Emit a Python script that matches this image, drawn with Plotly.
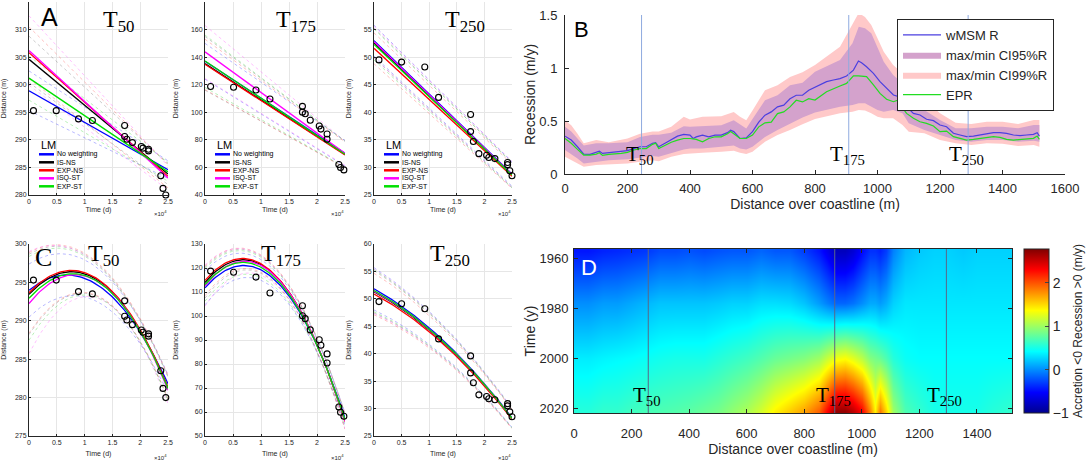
import numpy as np
import plotly.graph_objects as go

W, H = 1088, 462
SANS = "Liberation Sans, Arial, sans-serif"
SERIF = "Liberation Serif, Times New Roman, serif"

# ---------------- data: transect observations (time in 1e4 days) ----------------
t50 = [0.08, 0.49, 0.89, 1.14, 1.72, 1.72, 1.76, 1.86, 2.02, 2.05, 2.15, 2.15, 2.37, 2.41, 2.46]
d50 = [295.3, 295.3, 293.8, 293.5, 292.6, 290.6, 290.1, 289.5, 288.8, 288.5, 288.3, 288.0, 283.5, 281.2, 280.0]
t175 = [0.10, 0.51, 0.91, 1.16, 1.74, 1.74, 1.79, 1.88, 2.04, 2.07, 2.18, 2.18, 2.39, 2.42, 2.48]
d175 = [118.7, 118.2, 116.2, 109.6, 104.3, 100.1, 98.9, 94.2, 90.1, 87.8, 84.2, 80.4, 62.1, 59.9, 58.2]
t250 = [0.09, 0.50, 0.92, 1.17, 1.75, 1.75, 1.80, 1.90, 2.04, 2.08, 2.19, 2.42, 2.42, 2.46, 2.50]
d250 = [49.5, 49.1, 48.2, 42.7, 39.6, 36.5, 34.7, 32.5, 32.2, 31.8, 31.6, 30.9, 30.5, 29.4, 28.5]

methods = ["No weighting", "IS-NS", "EXP-NS", "ISQ-ST", "EXP-ST"]
method_colors = ["#0000ff", "#000000", "#ff0000", "#ff00ff", "#00e000"]
ci_colors = ["rgba(80,80,255,0.45)", "rgba(110,110,110,0.4)", "rgba(255,100,100,0.45)",
             "rgba(255,100,255,0.45)", "rgba(80,220,80,0.45)"]

# linear fits (panel A): values at t = 0 and t = 2.5
lin_t = [0.0, 2.5]
fitA50 = [[298.9, 284.6], [304.6, 283.8], [305.8, 283.4], [306.2, 283.1], [301.2, 284.2]]
ciA50_up = [[302.5, 286.2], [308.8, 285.7], [310.5, 285.5], [312.5, 285.3], [305.2, 285.9]]
ciA50_lo = [[295.3, 283.0], [300.4, 281.9], [301.1, 281.3], [299.9, 280.9], [297.2, 282.5]]
fitA175 = [[137.0, 70.3], [135.3, 69.5], [134.8, 69.0], [143.8, 70.2], [137.2, 69.6]]
ciA175_up = [[150.0, 79.5], [155.0, 79.0], [153.0, 78.5], [163.0, 79.0], [156.0, 79.0]]
ciA175_lo = [[124.0, 61.0], [116.0, 60.0], [116.5, 59.5], [124.5, 61.5], [118.0, 60.0]]
fitA250 = [[53.0, 28.8], [52.6, 28.6], [51.6, 28.4], [52.8, 28.7], [52.3, 28.6]]
ciA250_up = [[55.8, 31.0], [55.3, 30.8], [54.4, 30.6], [55.6, 31.1], [55.1, 30.9]]
ciA250_lo = [[50.2, 26.6], [49.9, 26.4], [48.8, 26.2], [49.9, 26.3], [49.5, 26.3]]

# quadratic fits (panel C): values read at these times
quad_t = [0.0, 0.75, 1.6, 2.5]
fitC50 = [[294.0, 295.9, 292.4, 281.8], [293.4, 296.5, 292.8, 281.3], [293.6, 296.7, 292.9, 281.4],
          [292.2, 296.1, 292.7, 281.0], [292.9, 296.2, 292.7, 281.2]]
ciC50_up = [[297.5, 298.3, 294.5, 282.9], [298.8, 299.1, 294.9, 282.7], [299.0, 299.3, 295.0, 282.8],
            [299.2, 299.0, 294.8, 282.6], [298.5, 298.9, 294.7, 282.6]]
ciC50_lo = [[290.4, 293.5, 290.3, 280.7], [288.0, 293.9, 290.7, 279.9], [288.2, 294.0, 290.8, 280.0],
            [285.5, 293.2, 290.6, 279.4], [287.3, 293.5, 290.7, 279.8]]
fitC175 = [[111.7, 121.1, 104.9, 57.5], [113.8, 123.8, 105.9, 56.4], [114.7, 124.2, 106.1, 56.1],
           [112.4, 123.3, 105.8, 56.4], [113.1, 122.3, 105.5, 56.8]]
ciC175_up = [[119.0, 125.5, 108.5, 59.5], [120.5, 127.0, 109.5, 59.0], [121.0, 127.5, 109.8, 58.8],
             [121.5, 127.2, 109.5, 59.0], [120.0, 126.5, 109.2, 59.2]]
ciC175_lo = [[104.5, 116.5, 101.3, 55.0], [107.0, 120.5, 102.3, 53.5], [108.0, 121.0, 102.5, 53.2],
             [103.5, 119.5, 102.0, 53.5], [106.0, 118.0, 101.8, 54.2]]
fitC250 = [[51.6, 47.4, 38.4, 28.5], [51.1, 46.9, 38.2, 28.3], [50.7, 46.5, 38.0, 28.2],
           [51.2, 47.0, 38.3, 28.4], [51.3, 47.1, 38.3, 28.4]]
ciC250_up = [[55.5, 50.5, 41.0, 30.2], [55.0, 50.0, 40.8, 30.0], [54.5, 49.6, 40.5, 29.9],
             [55.3, 50.3, 40.9, 30.1], [55.2, 50.2, 40.9, 30.1]]
ciC250_lo = [[47.7, 44.3, 35.8, 26.8], [47.2, 43.8, 35.6, 26.6], [46.9, 43.4, 35.5, 26.5],
             [47.1, 43.7, 35.7, 26.7], [47.4, 44.0, 35.7, 26.7]]

# ---------------- data: panel B (recession along coastline) ----------------
line_x = [0, 20, 40, 60, 80, 100, 110, 120, 140, 160, 180, 200, 220, 240, 260, 280, 290, 300, 320, 340,
          360, 380, 400, 410, 420, 440, 460, 480, 500, 520, 530, 540, 560, 580, 600, 620, 640, 660, 680,
          700, 720, 740, 760, 780, 800, 837, 859, 880, 901, 923, 939, 949, 965, 987, 1008, 1029, 1051,
          1067, 1077, 1093, 1115, 1136, 1157, 1179, 1200, 1221, 1243, 1264, 1285, 1307, 1328, 1349,
          1371, 1392, 1413, 1435, 1456, 1477, 1499, 1511, 1518]
wmsm_r = [0.357, 0.32, 0.257, 0.188, 0.185, 0.21, 0.215, 0.194, 0.20, 0.207, 0.21, 0.22, 0.24, 0.257,
          0.257, 0.29, 0.295, 0.257, 0.29, 0.32, 0.357, 0.373, 0.367, 0.335, 0.35, 0.367, 0.35, 0.367,
          0.367, 0.39, 0.414, 0.40, 0.335, 0.34, 0.40, 0.49, 0.555, 0.586, 0.633, 0.65, 0.71, 0.743,
          0.743, 0.79, 0.82, 0.871, 0.887, 0.90, 0.925, 0.98, 1.066, 1.05, 1.012, 0.95, 0.871, 0.808,
          0.745, 0.73, 0.776, 0.635, 0.572, 0.557, 0.516, 0.503, 0.462, 0.446, 0.384, 0.368, 0.352,
          0.358, 0.368, 0.384, 0.39, 0.39, 0.384, 0.368, 0.362, 0.368, 0.374, 0.39, 0.358]
epr = [0.335, 0.29, 0.232, 0.179, 0.179, 0.188, 0.20, 0.175, 0.185, 0.188, 0.194, 0.204, 0.226, 0.24,
       0.24, 0.28, 0.29, 0.24, 0.27, 0.30, 0.32, 0.335, 0.335, 0.33, 0.326, 0.304, 0.335, 0.351, 0.351,
       0.38, 0.40, 0.38, 0.335, 0.335, 0.367, 0.445, 0.483, 0.49, 0.57, 0.586, 0.633, 0.696, 0.68, 0.71,
       0.698, 0.776, 0.80, 0.83, 0.855, 0.925, 0.925, 0.925, 0.918, 0.84, 0.761, 0.705, 0.682, 0.698,
       0.635, 0.572, 0.525, 0.493, 0.478, 0.453, 0.399, 0.405, 0.352, 0.336, 0.32, 0.327, 0.336, 0.345,
       0.352, 0.345, 0.327, 0.32, 0.327, 0.327, 0.336, 0.358, 0.327]
band_x = [0, 20, 40, 60, 100, 140, 200, 240, 280, 300, 340, 380, 400, 440, 500, 540, 560, 580, 600, 640,
          680, 720, 760, 800, 880, 920, 940, 960, 980, 1000, 1020, 1050, 1080, 1100, 1150, 1200, 1250,
          1300, 1350, 1400, 1450, 1500, 1518]
ci99_up = [0.508, 0.46, 0.38, 0.29, 0.32, 0.30, 0.335, 0.38, 0.40, 0.40, 0.445, 0.54, 0.514, 0.54, 0.545,
           0.586, 0.54, 0.508, 0.60, 0.79, 0.837, 0.915, 0.96, 1.028, 1.20, 1.42, 1.52, 1.48, 1.405, 1.28,
           1.154, 1.028, 0.95, 0.856, 0.70, 0.572, 0.484, 0.472, 0.493, 0.493, 0.472, 0.51, 0.51]
ci95_up = [0.445, 0.40, 0.335, 0.27, 0.29, 0.29, 0.30, 0.35, 0.37, 0.37, 0.39, 0.45, 0.445, 0.45, 0.46,
           0.508, 0.47, 0.43, 0.52, 0.696, 0.743, 0.837, 0.86, 0.965, 1.075, 1.233, 1.39, 1.374, 1.327,
           1.20, 1.06, 0.934, 0.856, 0.761, 0.604, 0.51, 0.431, 0.431, 0.446, 0.446, 0.431, 0.462, 0.462]
ci95_lo = [0.226, 0.188, 0.147, 0.10, 0.116, 0.13, 0.138, 0.157, 0.17, 0.163, 0.20, 0.232, 0.24, 0.24,
           0.257, 0.27, 0.24, 0.232, 0.257, 0.35, 0.414, 0.476, 0.533, 0.58, 0.635, 0.65, 0.667, 0.667,
           0.635, 0.604, 0.588, 0.604, 0.572, 0.478, 0.415, 0.368, 0.32, 0.305, 0.32, 0.32, 0.305, 0.313,
           0.305]
ci99_lo = [0.163, 0.13, 0.10, 0.069, 0.085, 0.09, 0.10, 0.116, 0.13, 0.12, 0.163, 0.188, 0.194, 0.20,
           0.21, 0.22, 0.20, 0.188, 0.21, 0.304, 0.367, 0.414, 0.47, 0.52, 0.572, 0.588, 0.604, 0.60,
           0.572, 0.54, 0.525, 0.525, 0.462, 0.399, 0.384, 0.32, 0.29, 0.274, 0.29, 0.285, 0.264, 0.274,
           0.258]
transect_names = ["50", "175", "250"]
transect_B_x = [245, 908, 1290]
transect_D_x = [258, 906, 1294]

# ---------------- data: panel D (rate map) ----------------
map_x = [0, 50, 100, 150, 200, 250, 300, 350, 400, 450, 500, 550, 600, 650, 700, 750, 800, 850, 880,
         910, 940, 970, 1000, 1030, 1045, 1065, 1085, 1110, 1150, 1200, 1250, 1300, 1350, 1400, 1450, 1520]
map_years = [1957, 1978, 2000, 2021]
rate_1957 = [-0.45, -0.45, -0.40, -0.38, -0.35, -0.32, -0.25, -0.25, -0.22, -0.25, -0.22, -0.20, -0.20,
             -0.15, -0.20, -0.20, -0.30, -0.45, -0.60, -0.80, -0.80, -0.70, -0.50, -0.35, -0.35, -0.40,
             -0.30, -0.05, 0.15, 0.22, 0.25, 0.25, 0.22, 0.25, 0.25, 0.25]
rate_1978 = [0.00, 0.00, 0.05, 0.05, 0.10, 0.15, 0.20, 0.20, 0.20, 0.20, 0.22, 0.25, 0.25, 0.30, 0.30,
             0.28, 0.20, 0.05, -0.05, -0.15, -0.15, -0.10, 0.00, 0.10, 0.10, 0.05, 0.12, 0.25, 0.33, 0.33,
             0.33, 0.33, 0.33, 0.33, 0.33, 0.33]
rate_2000 = [0.35, 0.35, 0.38, 0.40, 0.42, 0.45, 0.48, 0.50, 0.50, 0.50, 0.55, 0.60, 0.65, 0.72, 0.80,
             0.85, 0.90, 1.00, 1.15, 1.30, 1.35, 1.25, 1.10, 0.90, 0.85, 0.80, 0.70, 0.55, 0.45, 0.42,
             0.42, 0.42, 0.42, 0.42, 0.42, 0.42]
rate_2021 = [0.55, 0.55, 0.60, 0.60, 0.65, 0.68, 0.70, 0.72, 0.75, 0.80, 0.85, 0.95, 1.05, 1.20, 1.40,
             1.55, 1.70, 1.95, 2.30, 2.70, 2.70, 2.55, 2.30, 1.80, 1.40, 1.85, 1.50, 1.00, 0.70, 0.60,
             0.50, 0.50, 0.50, 0.50, 0.55, 0.60]

# ---------------- helpers ----------------
def dom_x(a, b):
    return [a / W, b / W]

def dom_y(top, bot):
    return [1 - bot / H, 1 - top / H]

def px(x):
    return x / W

def py(y):
    return 1 - y / H

def note(x, y, text, size, color="black", family=SANS, xanchor="center", yanchor="middle", **kw):
    return dict(xref="paper", yref="paper", x=px(x), y=py(y), xanchor=xanchor, yanchor=yanchor,
                showarrow=False, text=text, font=dict(size=size, color=color, family=family), **kw)

fig = go.Figure()
annotations = []
shapes = []

col_px = [(29, 168), (205, 345), (374, 512)]
row_px = {"A": (2, 195), "C": (244, 436)}
tlabel_A = [118, 296, 465]
tlabel_C = [103, 281, 450]

small_panels = [
    (1, "A", 0, t50, d50, fitA50, ciA50_up, ciA50_lo, "lin", [280, 315], 5),
    (2, "A", 1, t175, d175, fitA175, ciA175_up, ciA175_lo, "lin", [40, 180], 20),
    (3, "A", 2, t250, d250, fitA250, ciA250_up, ciA250_lo, "lin", [25, 60], 5),
    (4, "C", 0, t50, d50, fitC50, ciC50_up, ciC50_lo, "quad", [275, 300], 5),
    (5, "C", 1, t175, d175, fitC175, ciC175_up, ciC175_lo, "quad", [50, 130], 10),
    (6, "C", 2, t250, d250, fitC250, ciC250_up, ciC250_lo, "quad", [25, 60], 5),
]

t_dense = np.linspace(0, 2.5, 80)

def curve(vals, kind):
    if kind == "lin":
        return lin_t, vals
    coef = np.polyfit(quad_t, vals, 2)
    return t_dense, np.polyval(coef, t_dense)

layout_axes = {}
for (i, row, col, tt, dd, fit, cu, cl, kind, yr, ydt) in small_panels:
    xa, ya = f"x{i}", f"y{i}"
    for k in range(5):
        for band in (cu, cl):
            cx, cy = curve(band[k], kind)
            fig.add_trace(go.Scatter(x=cx, y=cy, mode="lines", xaxis=xa, yaxis=ya, showlegend=False,
                                     line=dict(color=ci_colors[k], width=0.9, dash="dot"),
                                     hoverinfo="skip"))
    for k in range(5):
        cx, cy = curve(fit[k], kind)
        fig.add_trace(go.Scatter(x=cx, y=cy, mode="lines", xaxis=xa, yaxis=ya, showlegend=False,
                                 name=methods[k], line=dict(color=method_colors[k], width=1.3)))
    fig.add_trace(go.Scatter(x=tt, y=dd, mode="markers", xaxis=xa, yaxis=ya, showlegend=False,
                             cliponaxis=False,
                             marker=dict(symbol="circle-open", size=6, color="black",
                                         line=dict(width=1.1, color="black"))))
    x0, x1 = col_px[col]
    top, bot = row_px[row]
    layout_axes[f"xaxis{i}"] = dict(
        domain=dom_x(x0, x1), anchor=ya, range=[0, 2.5], dtick=0.5, showgrid=True, automargin=False,
        gridcolor="#e6e6e6", zeroline=False, showline=True, linecolor="#262626", linewidth=1,
        ticks="inside", ticklen=2, tickcolor="#262626",
        tickfont=dict(size=7, color="#262626", family=SANS),
        title=dict(text="Time (d)", font=dict(size=7, color="#262626", family=SANS),
                   standoff=2 if row == "A" else 5))
    layout_axes[f"yaxis{i}"] = dict(
        domain=dom_y(top, bot), anchor=xa, range=yr, dtick=ydt, showgrid=True, automargin=False,
        gridcolor="#e6e6e6", zeroline=False, showline=True, linecolor="#262626", linewidth=1,
        ticks="inside", ticklen=2, tickcolor="#262626",
        tickfont=dict(size=7, color="#262626", family=SANS),
        title=dict(text="Distance (m)", font=dict(size=7, color="#262626", family=SANS), standoff=11))
    annotations.append(note(x1 + 1, bot + (18 if row == "A" else 21), "×10<sup>4</sup>", 6,
                            color="#262626", xanchor="right"))
    tx = tlabel_A[col] if row == "A" else tlabel_C[col]
    ty = top + 19 if row == "A" else top + 11
    annotations.append(note(tx, ty, f"T<sub>{transect_names[col]}</sub>", 24, family=SERIF))
    if row == "A":
        lx = x0 + 10
        annotations.append(note(lx, 145, "LM", 11, xanchor="left"))
        for k in range(5):
            yy = 154.3 + 8 * k
            shapes.append(dict(type="line", xref="paper", yref="paper", x0=px(lx), x1=px(lx + 15),
                               y0=py(yy), y1=py(yy), line=dict(color=method_colors[k], width=2.5)))
            annotations.append(note(lx + 16, yy, methods[k], 7, xanchor="left"))

annotations.append(note(49, 17, "A", 25))
annotations.append(note(43, 257, "C", 26, family=SERIF))

# ---------------- panel B ----------------
fig.add_trace(go.Scatter(x=band_x, y=ci99_up, mode="lines", line=dict(width=0, color="rgba(0,0,0,0)"),
                         xaxis="x7", yaxis="y7", showlegend=False, hoverinfo="skip"))
fig.add_trace(go.Scatter(x=band_x, y=ci99_lo, mode="lines", line=dict(width=0, color="rgba(0,0,0,0)"),
                         fill="tonexty", fillcolor="#ffc9c9", name="max/min CI99%R",
                         xaxis="x7", yaxis="y7", legend="legend", legendrank=3))
fig.add_trace(go.Scatter(x=band_x, y=ci95_up, mode="lines", line=dict(width=0, color="rgba(0,0,0,0)"),
                         xaxis="x7", yaxis="y7", showlegend=False, hoverinfo="skip"))
fig.add_trace(go.Scatter(x=band_x, y=ci95_lo, mode="lines", line=dict(width=0, color="rgba(0,0,0,0)"),
                         fill="tonexty", fillcolor="#d4a2cc", name="max/min CI95%R",
                         xaxis="x7", yaxis="y7", legend="legend", legendrank=2))
fig.add_trace(go.Scatter(x=line_x, y=wmsm_r, mode="lines", line=dict(width=1.2, color="#4b3fe0"),
                         name="wMSM R", xaxis="x7", yaxis="y7", legend="legend", legendrank=1))
fig.add_trace(go.Scatter(x=line_x, y=epr, mode="lines", line=dict(width=1.2, color="#22dd22"),
                         name="EPR", xaxis="x7", yaxis="y7", legend="legend", legendrank=4))
for k, xv in enumerate(transect_B_x):
    shapes.append(dict(type="line", xref="x7", yref="y7", x0=xv, x1=xv, y0=0, y1=1.5,
                       line=dict(color="#8eaadf", width=1), layer="above"))
    annotations.append(dict(xref="x7", yref="y7", x=xv - 4, y=0.18, xanchor="center", yanchor="middle",
                            showarrow=False, text=f"T<sub>{transect_names[k]}</sub>",
                            font=dict(size=21, color="black", family=SERIF)))
annotations.append(note(581, 29, "B", 22))

layout_axes["xaxis7"] = dict(domain=dom_x(565, 1065), anchor="y7", range=[0, 1600], dtick=200,
                             showgrid=False, zeroline=False, showline=True, linecolor="#262626",
                             automargin=False,
                             ticks="inside", ticklen=4, tickcolor="#262626", ticklabelstandoff=2,
                             tickfont=dict(size=13, color="#262626", family=SANS),
                             title=dict(text="Distance over coastline (m)", standoff=2,
                                        font=dict(size=14, color="#262626", family=SANS)))
layout_axes["yaxis7"] = dict(domain=dom_y(15, 174), anchor="x7", range=[0, 1.5],
                             tickvals=[0, 0.5, 1, 1.5], ticktext=["0", "0.5", "1", "1.5"],
                             showgrid=False, zeroline=False, showline=True, linecolor="#262626",
                             automargin=False,
                             ticks="inside", ticklen=4, tickcolor="#262626", ticklabelstandoff=4,
                             tickfont=dict(size=13, color="#262626", family=SANS),
                             title=dict(text="Recession (m/y)", standoff=0,
                                        font=dict(size=14, color="#262626", family=SANS)))

# ---------------- panel D ----------------
jet = [[0.0, "rgb(0,0,143)"], [0.125, "rgb(0,0,255)"], [0.375, "rgb(0,255,255)"],
       [0.625, "rgb(255,255,0)"], [0.875, "rgb(255,0,0)"], [1.0, "rgb(128,0,0)"]]
fig.add_trace(go.Heatmap(x=map_x, y=map_years, z=[rate_1957, rate_1978, rate_2000, rate_2021],
                         xaxis="x8", yaxis="y8", colorscale=jet, zmin=-1, zmax=2.78, zsmooth="best",
                         showscale=True,
                         colorbar=dict(x=px(1024), xanchor="left", y=py(331), yanchor="middle",
                                       len=164 / H, lenmode="fraction", thickness=25,
                                       thicknessmode="pixels", xpad=0, ypad=0,
                                       tickvals=[-1, 0, 1, 2], ticks="inside",
                                       ticklen=4, outlinecolor="#262626", outlinewidth=1,
                                       tickfont=dict(size=14, color="#262626", family=SANS))))
for k, xv in enumerate(transect_D_x):
    shapes.append(dict(type="line", xref="x8", yref="y8", x0=xv, x1=xv, y0=1956.4, y1=2022,
                       line=dict(color="#5a6688", width=1), layer="above"))
    annotations.append(dict(xref="x8", yref="y8", x=xv - 6, y=2015.0, xanchor="center",
                            yanchor="middle", showarrow=False, text=f"T<sub>{transect_names[k]}</sub>",
                            font=dict(size=21, color="black", family=SERIF)))
annotations.append(note(589, 267, "D", 22, color="white"))
annotations.append(note(1078, 331, "Accretion <0 Recession >0 (m/y)", 12, color="#262626",
                        textangle=-90))

layout_axes["xaxis8"] = dict(domain=dom_x(574, 1012), anchor="y8", range=[0, 1522], dtick=200,
                             showgrid=False, zeroline=False, showline=True, mirror="ticks",
                             automargin=False,
                             linecolor="#262626", ticks="inside", ticklen=4, tickcolor="#262626",
                             ticklabelstandoff=8,
                             tickfont=dict(size=13, color="#262626", family=SANS),
                             title=dict(text="Distance over coastline (m)", standoff=2,
                                        font=dict(size=14, color="#262626", family=SANS)))
layout_axes["yaxis8"] = dict(domain=dom_y(249, 413), anchor="x8", range=[2022, 1956.4],
                             tickvals=[1960, 1980, 2000, 2020], showgrid=False, zeroline=False,
                             showline=True, mirror="ticks", linecolor="#262626", ticks="inside",
                             automargin=False,
                             ticklen=4, tickcolor="#262626", ticklabelstandoff=2,
                             tickfont=dict(size=13, color="#262626", family=SANS),
                             title=dict(text="Time (y)", standoff=0,
                                        font=dict(size=14, color="#262626", family=SANS)))

fig.update_layout(
    width=W, height=H, autosize=False, margin=dict(l=0, r=0, t=0, b=0, pad=0),
    paper_bgcolor="white", plot_bgcolor="white",
    font=dict(family=SANS, color="#262626"),
    showlegend=True,
    legend=dict(x=px(897), y=py(19), xanchor="left", yanchor="top", bgcolor="white",
                bordercolor="#262626", borderwidth=1, itemwidth=38, tracegroupgap=0,
                traceorder="normal",
                font=dict(size=13, color="#262626", family=SANS)),
    annotations=annotations, shapes=shapes,
    **layout_axes,
)

fig.write_html("out.html", config={"displayModeBar": False},
               post_script="document.body.style.margin='0';document.body.style.overflow='hidden';")
